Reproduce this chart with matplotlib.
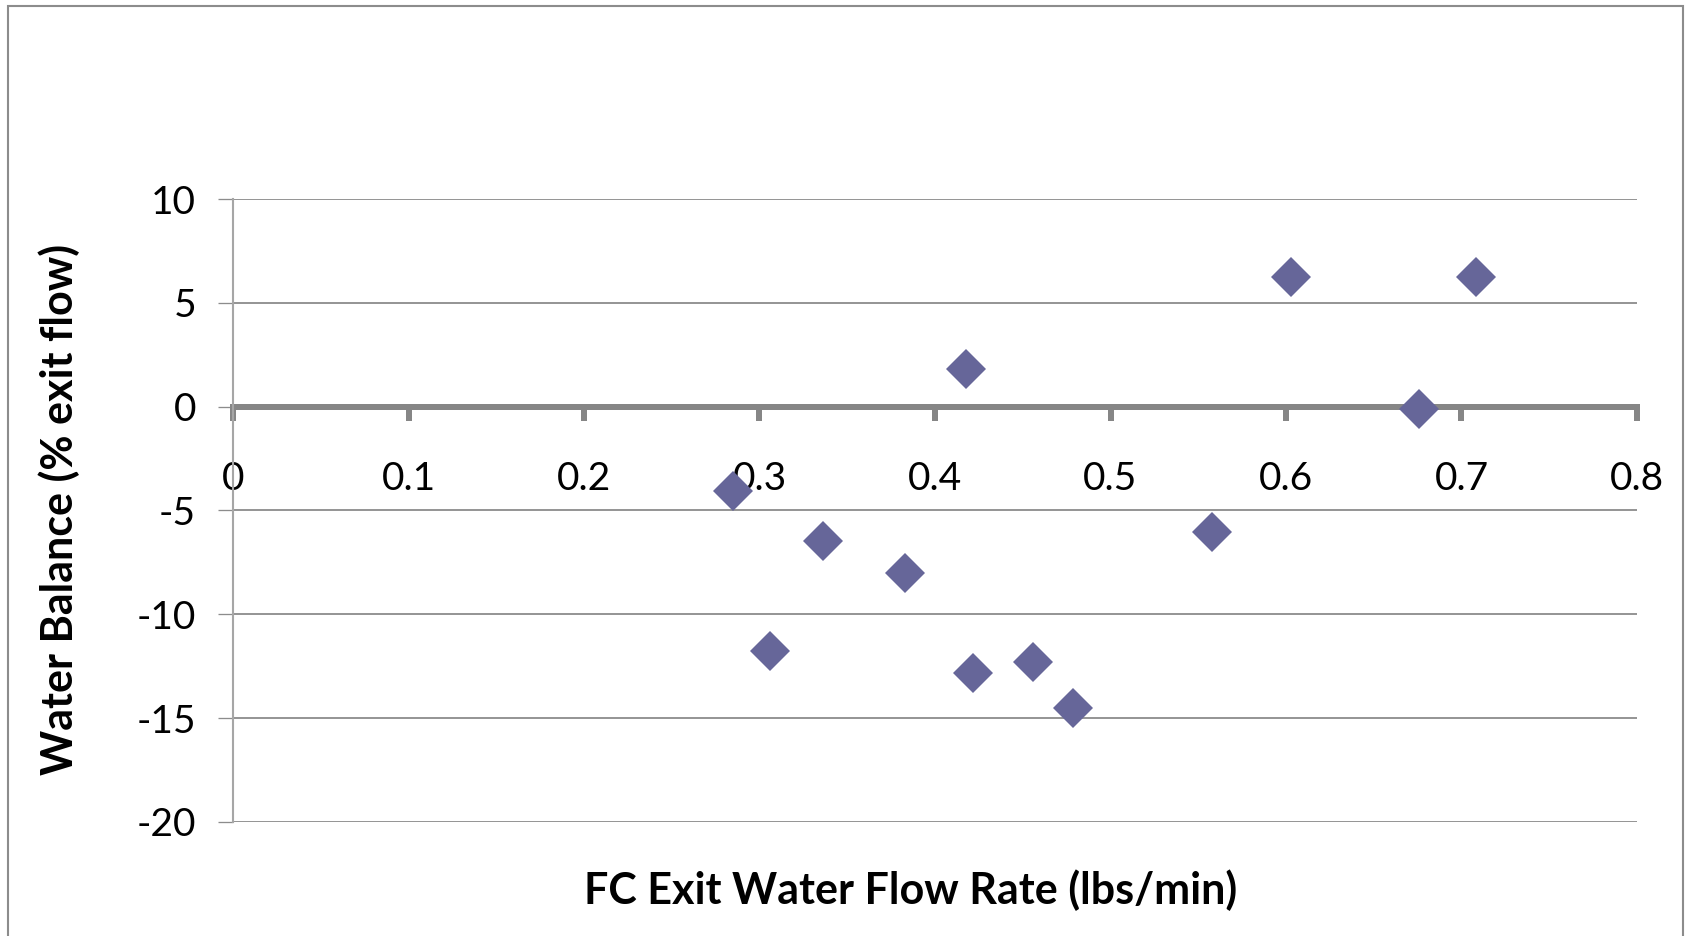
import matplotlib
matplotlib.use("Agg")
import matplotlib.pyplot as plt
from matplotlib.patches import Rectangle
import numpy as np

flow_rate = [0.285, 0.306, 0.336, 0.383, 0.4175, 0.4215, 0.456, 0.4785, 0.558, 0.603, 0.676, 0.708]
water_balance = [-4.05, -11.77, -6.45, -8.0, 1.80, -12.81, -12.30, -14.53, -6.05, 6.26, -0.1, 6.26]
x_ticks = [0, 0.1, 0.2, 0.3, 0.4, 0.5, 0.6, 0.7, 0.8]
x_tick_labels = ["0", "0.1", "0.2", "0.3", "0.4", "0.5", "0.6", "0.7", "0.8"]
y_ticks = [-20, -15, -10, -5, 0, 5, 10]
y_tick_labels = ["-20", "-15", "-10", "-5", "0", "5", "10"]
x_label = "FC Exit Water Flow Rate (lbs/min)"
y_label = "Water Balance (% exit flow)"

plt.rcParams['font.family'] = ['Lato', 'DejaVu Sans']

W, H, DPI = 1686, 936, 100
fig = plt.figure(figsize=(W / DPI, H / DPI), dpi=DPI)
px = 72.0 / DPI  # points per pixel

# outer chart frame
fig.patches.append(Rectangle((8 / W, -0.05), (1683 - 8) / W, (930 - 0) / H + 0.05,
                             transform=fig.transFigure, fill=False,
                             edgecolor='#8c8c8c', linewidth=1.5 * px * 1.4))

ax = fig.add_axes([233 / W, 1 - 822 / H, (1637 - 233) / W, (822 - 199) / H])
ax.set_xlim(0, 0.8)
ax.set_ylim(-20, 10)

grid_c = '#8c8c8c'
ax.set_yticks(y_ticks)
ax.set_yticklabels(y_tick_labels)
ax.set_xticks(x_ticks)
ax.set_xticklabels(x_tick_labels)
ax.yaxis.grid(True, color=grid_c, linewidth=1.3 * px * 1.4)
ax.set_axisbelow(True)

for s in ['top', 'right']:
    ax.spines[s].set_visible(False)
ax.spines['left'].set_color('#a6a6a6')
ax.spines['left'].set_linewidth(1.5 * px * 1.4)
ax.spines['bottom'].set_position(('data', 0))
ax.spines['bottom'].set_color('#868686')
ax.spines['bottom'].set_linewidth(6 * px)
ax.spines['bottom'].set_zorder(2)

ax.tick_params(axis='y', direction='out', length=15 * px, width=1.3 * px, color=grid_c,
               pad=22 * px, labelsize=28, labelcolor='black')
ax.tick_params(axis='x', direction='out', length=14 * px, width=6 * px, color='#868686',
               pad=40 * px, labelsize=28, labelcolor='black')

ax.plot(flow_rate, water_balance, linestyle='none', marker='D', markersize=20,
        color='#666699', markeredgewidth=0, zorder=5, clip_on=False)

fig.text(59 / W, 1 - 509 / H, y_label, rotation=90, ha='center', va='center',
         fontsize=31, fontweight='bold')
fig.text(911 / W, 1 - 890 / H, x_label, ha='center', va='center',
         fontsize=31, fontweight='bold')

fig.savefig("out.png", dpi=DPI)
